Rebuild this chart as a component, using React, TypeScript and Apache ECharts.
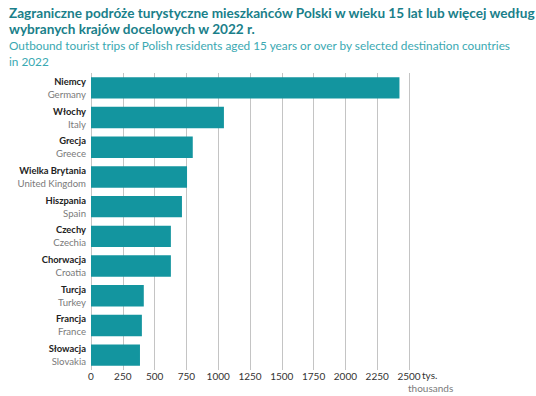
import React, { useEffect, useRef } from "react";
import * as echarts from "echarts";

const polishNames = ["Niemcy", "Włochy", "Grecja", "Wielka Brytania", "Hiszpania", "Czechy", "Chorwacja", "Turcja", "Francja", "Słowacja"];
const englishNames = ["Germany", "Italy", "Greece", "United Kingdom", "Spain", "Czechia", "Croatia", "Turkey", "France", "Slovakia"];
const tripValues = [2425, 1045, 800, 755, 715, 628, 628, 415, 400, 385];
const xTicks = [0, 250, 500, 750, 1000, 1250, 1500, 1750, 2000, 2250, 2500];

const titlePl1 = "Zagraniczne podróże turystyczne mieszkańców Polski w wieku 15 lat lub więcej według";
const titlePl2 = "wybranych krajów docelowych w 2022 r.";
const titleEn1 = "Outbound tourist trips of Polish residents aged 15 years or over by selected destination countries";
const titleEn2 = "in 2022";

const FONT = "Lato, 'Noto Sans', sans-serif";

export default function App() {
  const ref = useRef<HTMLDivElement>(null);
  useEffect(() => {
    if (!ref.current) return;
    const chart = echarts.init(ref.current, undefined, { renderer: "svg" });
    const cats = polishNames.map((p, i) => p + "\n" + englishNames[i]);
    chart.setOption({
      animation: false,
      textStyle: { fontFamily: FONT },
      grid: { left: 91, right: 127, top: 73, bottom: 26, containLabel: false },
      xAxis: {
        type: "value",
        min: xTicks[0],
        max: xTicks[xTicks.length - 1],
        interval: 250,
        axisLine: { show: false },
        axisTick: { show: false },
        splitLine: { show: true, lineStyle: { color: "#c4c4c4", width: 1 } },
        axisLabel: { color: "#333", fontSize: 10, margin: 1, fontFamily: FONT, formatter: (v: number) => String(v) },
      },
      yAxis: {
        type: "category",
        data: cats,
        inverse: true,
        axisLine: { show: false },
        axisTick: { show: false },
        axisLabel: {
          margin: 5,
          formatter: (v: string) => {
            const [a, b] = v.split("\n");
            return "{pl|" + a + "}\n{en|" + b + "}";
          },
          rich: {
            pl: { color: "#222", fontSize: 9.4, fontWeight: "bold", lineHeight: 13, align: "right", fontFamily: FONT },
            en: { color: "#7a7a7a", fontSize: 9.6, lineHeight: 13, align: "right", fontFamily: FONT },
          },
        },
      },
      series: [
        {
          type: "bar",
          data: tripValues,
          barCategoryGap: "28%",
          itemStyle: { color: "#13959f" },
        },
      ],
      graphic: [
        { type: "text", left: 9, top: 6, style: { text: titlePl1, fill: "#1a7f8a", font: "bold 13.6px " + FONT } },
        { type: "text", left: 9, top: 22, style: { text: titlePl2, fill: "#1a7f8a", font: "bold 13.6px " + FONT } },
        { type: "text", left: 9, top: 39, style: { text: titleEn1, fill: "#3aa9b2", font: "11.8px " + FONT } },
        { type: "text", left: 9, top: 55, style: { text: titleEn2, fill: "#3aa9b2", font: "11.8px " + FONT } },
        { type: "text", left: 422, top: 370, style: { text: "tys.", fill: "#333", font: "10px " + FONT } },
        { type: "text", left: 408, top: 383, style: { text: "thousands", fill: "#7a7a7a", font: "10px " + FONT } },
      ],
    });
    return () => chart.dispose();
  }, []);
  return <div ref={ref} style={{ width: 536, height: 396, position: "absolute", left: 0, top: 0 }} />;
}
